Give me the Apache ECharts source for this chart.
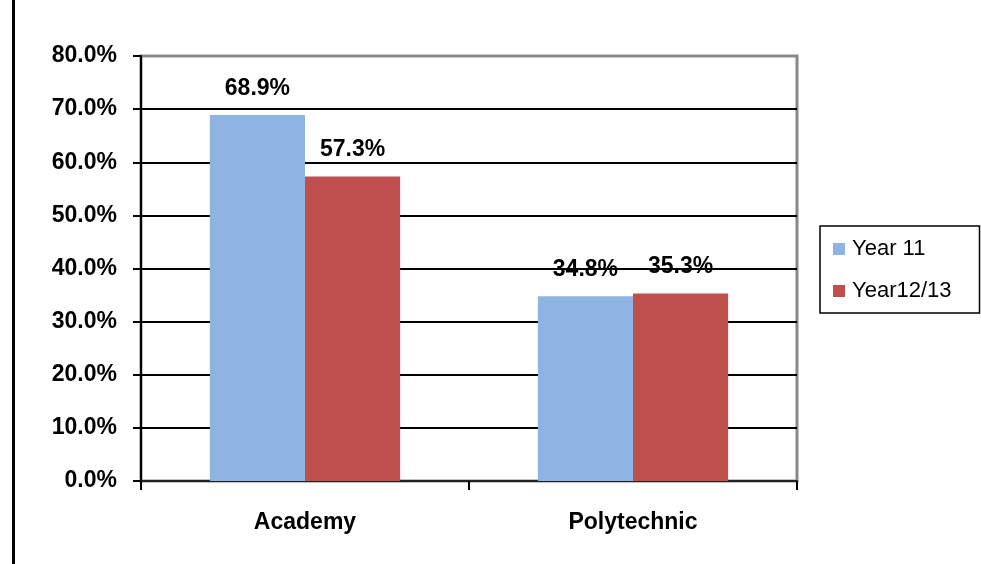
<!DOCTYPE html>
<html>
<head>
<meta charset="utf-8">
<script src="https://cdn.jsdelivr.net/npm/echarts@6/dist/echarts.min.js"></script>
<style>html,body{margin:0;padding:0;background:#fff;}#c{width:981px;height:564px;}</style>
</head>
<body>
<div id="c"></div>
<script>
const categories = ['Academy', 'Polytechnic'];
const year11 = [68.9, 34.8];
const year1213 = [57.3, 35.3];
const seriesNames = ['Year 11', 'Year12/13'];

const FONT = 'Liberation Sans, Arial, sans-serif';
const chart = echarts.init(document.getElementById('c'));
const labelStyle = {
  show: true, position: 'top', distance: 15,
  formatter: p => p.value.toFixed(1) + '%',
  fontFamily: FONT, fontWeight: 'bold', fontSize: 23, color: '#000'
};
chart.setOption({
  animation: false,
  backgroundColor: '#fff',
  graphic: [{ type: 'rect', shape: { x: 12, y: 0, width: 3, height: 564 }, style: { fill: '#000' } }],
  grid: { left: 141, right: 184, top: 56, bottom: 83, show: true, borderColor: '#888', borderWidth: 3, backgroundColor: '#fff' },
  legend: {
    orient: 'vertical', left: 820, top: 226,
    padding: [12, 28, 11, 13], itemGap: 20,
    borderColor: '#000', borderWidth: 1.5,
    itemWidth: 12, itemHeight: 12, icon: 'rect',
    textStyle: { fontFamily: FONT, fontSize: 22, color: '#000', padding: [0, 0, 0, 2] },
    data: seriesNames
  },
  xAxis: {
    type: 'category', data: categories,
    axisLine: { lineStyle: { color: '#222', width: 2 } },
    axisTick: { show: true, length: 9, lineStyle: { color: '#000', width: 2 } },
    axisLabel: { margin: 30, fontFamily: FONT, fontWeight: 'bold', fontSize: 23, color: '#000' }
  },
  yAxis: {
    type: 'value', min: 0, max: 80, interval: 10,
    axisLine: { show: true, lineStyle: { color: '#000', width: 2 } },
    axisTick: { show: true, length: 8, lineStyle: { color: '#000', width: 2 } },
    axisLabel: { margin: 24, formatter: v => v.toFixed(1) + '%', fontFamily: FONT, fontWeight: 'bold', fontSize: 23, color: '#000' },
    splitLine: { show: true, showMaxLine: false, showMinLine: false, lineStyle: { color: '#000', width: 2 } }
  },
  series: [
    { name: seriesNames[0], type: 'bar', data: year11, barGap: '0%', barCategoryGap: '42%', itemStyle: { color: '#8EB4E3' }, label: labelStyle },
    { name: seriesNames[1], type: 'bar', data: year1213, itemStyle: { color: '#C0504D' }, label: labelStyle }
  ]
});
</script>
</body>
</html>
